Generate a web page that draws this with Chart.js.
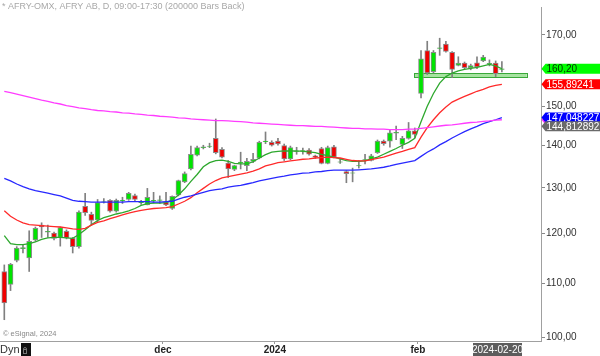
<!DOCTYPE html>
<html><head><meta charset="utf-8">
<script src="https://cdn.jsdelivr.net/npm/chart.js@4/dist/chart.umd.min.js"></script>
<style>html,body{margin:0;padding:0;background:#fff;}#wrap{width:600px;height:356px;position:relative;}</style>
</head><body><div id="wrap"><canvas id="c" width="600" height="356"></canvas></div>
<script>
const opens = [112.3,109.8,114.5,116.9,115.0,118.7,121.8,120.3,120.1,119.2,
 120.5,119.0,117.3,125.9,124.1,122.9,126.8,127.2,124.8,127.1,
 127.4,128.3,126.7,126.2,127.1,127.2,126.8,125.4,128.4,131.4,
 134.4,137.7,139.5,139.8,141.8,139.1,135.8,134.3,135.9,135.2,
 136.2,137.0,141.0,140.8,141.1,140.0,136.8,138.6,138.7,138.9,
 137.5,139.3,135.7,139.7,136.0,133.8,133.4,135.1,136.5,136.4,
 138.3,141.1,141.1,143.1,140.3,141.8,143.7,153.4,165.4,159.4,
 166.0,167.3,164.9,161.1,161.8,160.5,161.9,162.4,161.5,161.8,
 160.0];
const highs = [113.6,113.9,117.3,117.7,120.6,121.4,122.3,121.8,120.3,121.4,
 120.8,119.2,124.9,128.8,124.6,127.4,127.6,127.4,127.5,127.9,
 129.0,128.6,127.2,129.9,129.0,128.2,129.0,128.2,131.8,133.7,
 139.9,139.9,140.1,140.6,146.7,139.5,136.4,135.3,138.4,136.9,
 138.1,141.1,143.4,141.2,141.8,140.4,139.9,139.6,139.4,139.3,
 137.7,139.6,139.9,140.1,136.8,134.0,134.6,136.4,137.9,137.9,
 141.4,141.4,143.8,144.9,142.3,145.8,144.4,165.4,168.1,165.4,
 169.0,168.1,165.1,163.6,162.1,161.5,163.6,164.0,162.7,162.4,
 162.2];
const lows = [103.2,108.6,114.2,116.0,112.3,118.4,119.2,119.2,118.7,117.4,
 118.9,116.0,117.0,123.9,121.8,122.5,126.6,124.6,124.6,126.5,
 127.2,126.9,126.3,126.2,126.6,126.5,126.0,125.2,128.2,131.2,
 134.2,137.5,139.2,139.5,138.0,137.0,132.4,134.0,134.4,134.0,
 135.9,136.8,140.5,139.9,140.1,136.4,136.6,137.9,137.9,137.7,
 136.9,135.6,135.6,137.0,135.7,131.2,131.4,134.6,135.6,136.3,
 138.1,140.1,139.6,141.5,139.3,141.6,142.0,152.2,158.6,159.0,
 164.0,164.9,157.7,161.0,160.2,159.9,160.2,162.2,161.0,158.0,
 159.3];
const closes = [106.3,113.7,117.0,117.1,118.4,121.1,121.4,120.5,119.0,121.3,
 119.1,117.3,124.6,124.5,122.8,126.7,126.9,124.8,127.2,127.2,
 128.8,127.4,126.8,127.9,127.2,127.3,126.2,128.1,131.7,133.3,
 137.9,139.5,139.7,139.9,138.3,137.2,134.4,135.2,136.0,136.2,
 136.7,140.8,141.1,140.1,140.4,136.8,139.5,138.7,138.8,137.9,
 137.2,135.7,139.5,137.2,136.1,133.3,133.5,135.2,136.6,137.5,
 141.1,140.5,143.2,143.3,141.8,143.7,142.8,163.0,159.0,164.9,
 166.2,165.1,160.0,161.8,160.5,161.1,160.7,163.5,161.7,158.8,
 160.2];
const maGreen = [119.6,117.9,117.7,117.7,117.9,118.3,118.8,119.1,119.2,119.2,
 119.1,119.0,119.8,120.8,121.9,122.8,123.4,123.8,124.2,124.5,
 124.9,125.4,126.1,126.5,126.6,126.6,126.7,127.3,128.4,129.8,
 131.5,133.1,134.9,135.9,136.4,136.5,136.2,135.7,135.6,135.6,
 136.1,137.0,137.8,138.4,138.6,138.7,138.7,138.7,138.6,138.5,
 138.3,137.9,137.6,137.2,136.8,136.4,136.2,136.2,136.3,136.8,
 137.2,137.9,138.6,139.3,140.1,140.8,141.8,146.0,150.0,153.4,
 156.2,158.0,159.0,159.6,160.0,160.3,160.6,161.0,161.4,161.0,
 160.2];
const maRed = [124.9,123.7,122.9,122.3,121.9,121.8,121.7,121.6,121.5,121.4,
 121.2,121.0,120.9,121.1,121.8,122.4,122.7,123.2,123.6,124.0,
 124.4,124.7,125.0,125.2,125.4,125.5,125.6,125.8,126.4,127.0,
 127.8,128.9,129.9,130.9,131.7,132.3,132.6,132.9,133.2,133.5,
 133.9,134.4,135.1,135.5,135.9,136.1,136.3,136.5,136.7,136.8,
 137.0,137.1,137.2,137.1,137.0,136.7,136.4,136.3,136.3,136.6,
 136.9,137.2,137.7,138.2,138.6,139.1,139.5,142.1,144.5,146.5,
 148.3,149.8,151.1,151.9,152.6,153.3,154.0,154.5,155.2,155.6,
 155.89];
const maBlue = [132.2,131.6,130.9,130.3,129.8,129.4,129.1,128.8,128.5,128.2,
 127.7,127.2,127.0,126.9,126.8,126.8,126.8,126.8,126.8,126.8,
 126.9,126.9,126.9,126.9,126.8,126.8,126.9,127.0,127.5,127.9,
 128.2,128.6,129.0,129.4,129.6,129.8,130.2,130.4,130.6,130.9,
 131.2,131.6,131.9,132.2,132.5,132.7,133.0,133.2,133.4,133.5,
 133.7,133.8,134.0,134.1,134.1,134.1,134.1,134.2,134.3,134.4,
 134.6,134.8,135.1,135.5,135.8,136.1,136.4,137.4,138.4,139.2,
 140.2,141.0,141.9,142.7,143.5,144.2,144.8,145.5,146.0,146.5,
 147.05];
const maMagenta = [154.0,153.6,153.2,152.8,152.4,152.0,151.6,151.3,150.9,150.6,
 150.2,149.9,149.6,149.4,149.1,148.9,148.8,148.6,148.5,148.3,
 148.2,148.0,147.9,147.7,147.6,147.4,147.3,147.2,147.0,146.9,
 146.7,146.6,146.5,146.4,146.3,146.3,146.2,146.1,146.0,145.9,
 145.7,145.6,145.5,145.4,145.3,145.2,145.1,145.0,145.0,144.9,
 144.8,144.8,144.7,144.6,144.5,144.4,144.3,144.3,144.2,144.2,
 144.1,144.1,144.0,144.0,144.0,144.1,144.1,144.3,144.5,144.7,
 144.9,145.1,145.2,145.4,145.6,145.8,145.9,146.1,146.2,146.4,
 146.5];
const yTickValues = [100,110,120,130,140,150,160,170];
const xTickLabels = ['dec','2024','feb'];
const xTickIndex = [25.5,43.5,66.5];
const lastDateLabel = '2024-02-20';
const titleText = '* AFRY-OMX, AFRY AB, D, 09:00-17:30 (200000 Bars Back)';
const tagValues = [146.5, 147.048227, 144.812892, 155.89241, 160.20];
const tagTexts = ['', '147,048227', '144,812892', '155,89241', '160,20'];
const zone = {from: 65.9, to: 84.0, low: 157.8, high: 158.9};

const FONT = '"Liberation Sans", Arial, sans-serif';
const idx = opens.map((_, i) => i);
const bodyColors = idx.map(i => closes[i] > opens[i] ? '#00e400' : (closes[i] < opens[i] ? '#f00000' : '#888'));
const lineDs = (arr, color) => ({type: 'line', data: idx.map(i => ({x: i, y: arr[i]})), borderColor: color,
  borderWidth: 1.3, pointRadius: 0, tension: 0, fill: false, order: 0});

const overlay = {
  id: 'overlay',
  beforeDatasetsDraw(chart) {
    const {ctx, scales: {x, y}} = chart;
    const x0 = x.getPixelForValue(zone.from), x1 = x.getPixelForValue(zone.to);
    const y0 = y.getPixelForValue(zone.high), y1 = y.getPixelForValue(zone.low);
    ctx.save();
    ctx.fillStyle = '#a6e3a0';
    ctx.fillRect(x0, y0, x1 - x0, y1 - y0);
    ctx.strokeStyle = '#3aa83a'; ctx.lineWidth = 1;
    ctx.strokeRect(Math.round(x0) + 0.5, Math.round(y0) + 0.5, Math.round(x1 - x0), Math.round(y1 - y0));
    ctx.restore();
  },
  afterDraw(chart) {
    const {ctx, scales: {y}, chartArea} = chart;
    ctx.save();
    // title
    ctx.font = '9px ' + FONT; ctx.fillStyle = '#a8a8a8'; ctx.textBaseline = 'middle';
    ctx.fillText(titleText, 2, 7);
    ctx.font = '7.5px ' + FONT; ctx.fillStyle = '#888';
    ctx.fillText('\u00A9 eSignal, 2024', 3, 334);
    // tags
    const colors = [['#ff33ff', '#fff'], ['#0000ff', '#fff'], ['#6a6a6a', '#fff'], ['#ff0000', '#fff'], ['#00ff00', '#003300']];
    const xl = chartArea.right + 0.5;
    tagValues.forEach((v, k) => {
      const yp = y.getPixelForValue(v);
      const h = 10;
      ctx.fillStyle = colors[k][0];
      ctx.beginPath();
      ctx.moveTo(xl, yp);
      ctx.lineTo(xl + 4, yp - h / 2);
      if (tagTexts[k]) { ctx.lineTo(600, yp - h / 2); ctx.lineTo(600, yp + h / 2); }
      ctx.lineTo(xl + 4, yp + h / 2);
      ctx.closePath(); ctx.fill();
      if (tagTexts[k]) {
        ctx.fillStyle = colors[k][1]; ctx.font = '10px ' + FONT; ctx.textBaseline = 'middle';
        ctx.fillText(tagTexts[k], xl + 5, yp + 0.5);
      }
    });
    // date box
    ctx.fillStyle = '#5c5c5c'; ctx.fillRect(473, 343, 49, 13);
    ctx.fillStyle = '#fff'; ctx.font = '10px ' + FONT; ctx.textAlign = 'center';
    ctx.fillText(lastDateLabel, 497.5, 350);
    // Dyn + lock
    ctx.textAlign = 'left'; ctx.fillStyle = '#333'; ctx.font = '11px ' + FONT;
    ctx.fillText('Dyn', 0, 350);
    ctx.fillStyle = '#111'; ctx.fillRect(21, 343, 10, 13);
    ctx.strokeStyle = '#777'; ctx.lineWidth = 1;
    ctx.strokeRect(23.5, 349.5, 3, 4);
    ctx.beginPath(); ctx.arc(25, 349, 1.5, Math.PI, 0); ctx.stroke();
    ctx.restore();
  }
};

new Chart(document.getElementById('c').getContext('2d'), {
  type: 'bar',
  data: {datasets: [
    lineDs(maMagenta, '#ff3cff'),
    lineDs(maBlue, '#2828ff'),
    lineDs(maRed, '#ff2a2a'),
    lineDs(maGreen, '#2ea82e'),
    {type: 'bar', data: idx.map(i => ({x: i, y: [opens[i], closes[i]]})), backgroundColor: bodyColors,
      borderColor: '#8c8c8c', borderWidth: 1, borderSkipped: false, barThickness: 5, grouped: false, order: 5},
    {type: 'bar', data: idx.map(i => ({x: i, y: [lows[i], highs[i]]})), backgroundColor: '#808080',
      borderWidth: 0, barThickness: 1, grouped: false, order: 6}
  ]},
  options: {
    responsive: false, animation: false, devicePixelRatio: 1,
    layout: {padding: 0},
    plugins: {legend: {display: false}, tooltip: {enabled: false}},
    scales: {
      x: {type: 'linear', min: -0.691, max: 86.29, offset: false, position: 'bottom',
        grid: {display: true, drawOnChartArea: false, drawTicks: true, tickLength: 3, color: '#999', offset: false},
        border: {display: true, color: '#a0a0a0', width: 1},
        afterBuildTicks: s => { s.ticks = xTickIndex.map(v => ({value: v})); },
        afterFit: s => { s.height = 15; },
        ticks: {autoSkip: false, maxRotation: 0, padding: 0, color: '#222',
          font: {family: FONT, size: 10, weight: 'bold'},
          callback: (v, i) => xTickLabels[i]}
      },
      y: {type: 'logarithmic', position: 'right', min: 99.42, max: 178.5, beginAtZero: false,
        grid: {display: true, drawOnChartArea: false, drawTicks: true, tickLength: 4, color: '#888'},
        border: {display: true, color: '#a0a0a0', width: 1},
        afterBuildTicks: s => { s.ticks = yTickValues.map(v => ({value: v})); },
        afterFit: s => { s.width = 59; },
        ticks: {padding: 1, color: '#333', font: {family: FONT, size: 10},
          callback: v => v.toFixed(2).replace('.', ',')}
      }
    }
  },
  plugins: [overlay]
});
</script></body></html>
